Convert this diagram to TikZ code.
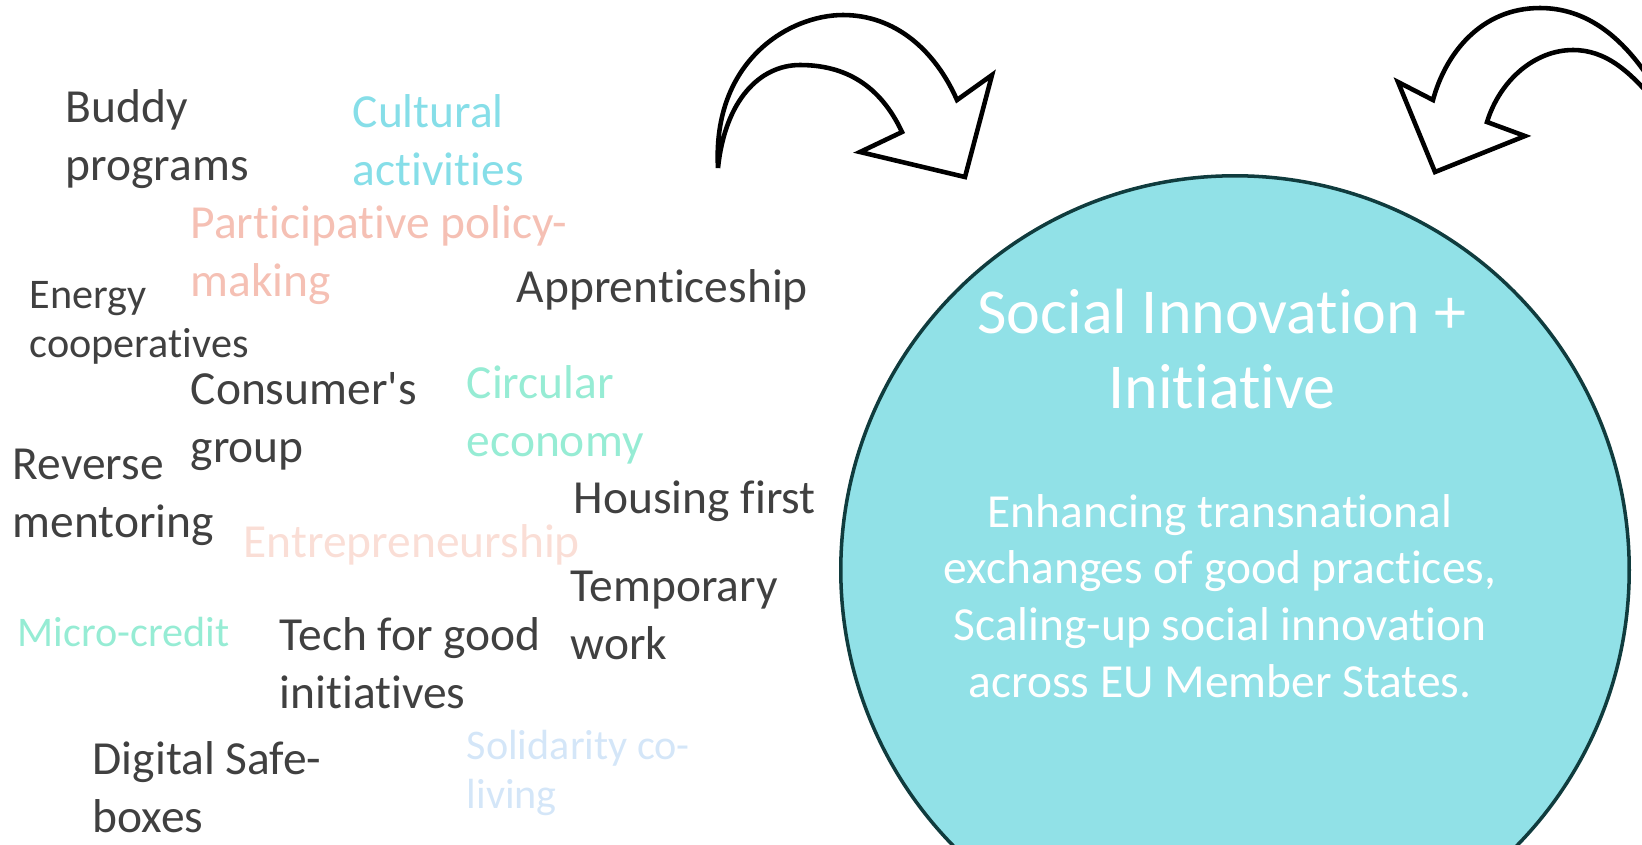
\documentclass[tikz,border=0pt]{standalone}
\usepackage{fontspec}
\setmainfont{Carlito}[Ligatures=CommonOff]
\definecolor{textgray}{RGB}{64, 64, 64}
\definecolor{cyan1}{RGB}{134, 222, 232}
\definecolor{salmon1}{RGB}{245, 192, 180}
\definecolor{mint1}{RGB}{150, 236, 212}
\definecolor{blush1}{RGB}{250, 222, 214}
\definecolor{sky1}{RGB}{212, 230, 248}
\definecolor{hubfill}{RGB}{145, 225, 231}
\definecolor{hubline}{RGB}{16, 60, 62}
\usetikzlibrary{positioning}

\begin{document}
\begin{tikzpicture}[x=0.01cm, y=-0.01cm,
  word/.style={anchor=base west, inner sep=0pt, align=left, text=textgray, font=\fontsize{13.5}{16.3}\selectfont},
  smallword/.style={word, font=\fontsize{12}{13.8}\selectfont},
  bigarrow/.style={draw=black, fill=white, line width=1.3pt, line join=miter}]
  \useasboundingbox (0, 0) rectangle (1642, 844);
  \clip (0, 0) rectangle (1642, 844);

  % The hub
  \node[circle, draw=hubline, fill=hubfill, line width=1pt, minimum size=7.88cm, inner sep=0pt] (hub) at (1235, 570) {};
  \node[anchor=base, align=center, inner sep=0pt, text=white, font=\fontsize{18.2}{21.3}\selectfont] (title) at (1222, 408) {Social Innovation +\\Initiative};
  \node[anchor=base, align=center, inner sep=0pt, text=white, font=\fontsize{13.5}{16.1}\selectfont] (aim) at (1220, 697) {Enhancing transnational\\exchanges of good practices,\\Scaling-up social innovation\\across EU Member States.};

  % Curved arrows into the hub
  \draw[bigarrow] (718, 168) .. controls (712, 60) and (790, 15) .. (843, 15) .. controls (895, 15) and (935, 50) .. (957, 100)
    -- (992, 75) -- (965, 177) -- (860, 152) -- (902, 132)
    .. controls (880, 85) and (845, 65) .. (800, 65) .. controls (760, 65) and (725, 100) .. cycle;
  \draw[bigarrow] (1433, 100) -- (1398, 82) -- (1435, 172) -- (1525, 136) -- (1487, 122)
    .. controls (1500, 80) and (1535, 50) .. (1573, 50) .. controls (1605, 50) and (1630, 70) .. (1660, 108)
    -- (1660, 96) .. controls (1625, 35) and (1585, 8) .. (1540, 8) .. controls (1480, 8) and (1445, 55) .. cycle;

  % Practices (anchored at the baseline of the last line)
  \node[word] (buddy) at (65, 180) {Buddy\\programs};
  \node[word, text=cyan1] (culture) at (352, 185) {Cultural\\activities};
  \node[word, text=salmon1] (policy) at (190, 296) {Participative policy-\\making};
  \node[smallword] (energy) at (29, 357) {Energy\\cooperatives};
  \node[word] (apprentice) at (516, 302) {Apprenticeship};
  \node[word] (consumer) at (190, 462) {Consumer\textquotesingle s\\group};
  \node[word, text=mint1] (circular) at (466, 456) {Circular\\economy};
  \node[word] (reverse) at (12, 537) {Reverse\\mentoring};
  \node[word] (housing) at (573, 513) {Housing first};
  \node[word, text=blush1] (entre) at (243, 557) {Entrepreneurship};
  \node[word] (temp) at (570, 659) {Temporary\\work};
  \node[smallword, text=mint1] (micro) at (17, 646) {Micro-credit};
  \node[word] (tech) at (279, 708) {Tech for good\\initiatives};
  \node[word] (safe) at (92, 832) {Digital Safe-\\boxes};
  \node[smallword, text=sky1] (coliving) at (466, 808) {Solidarity co-\\living};
\end{tikzpicture}
\end{document}
